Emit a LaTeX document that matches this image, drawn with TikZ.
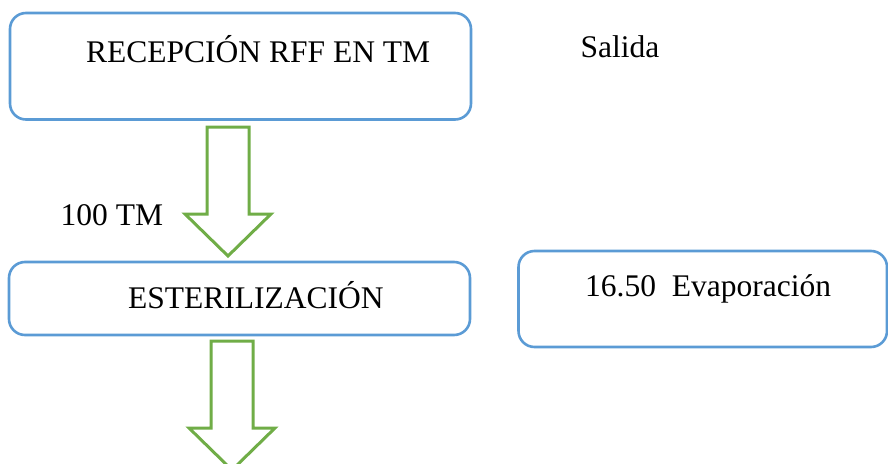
\documentclass[tikz,border=0pt]{standalone}
\usepackage{fontspec}
\setmainfont{Liberation Serif}
\definecolor{boxblue}{HTML}{5B9BD5}
\definecolor{arrowgreen}{HTML}{70AD47}
\begin{document}
\begin{tikzpicture}[x=1pt,y=-1pt,
  stagebox/.style={draw=boxblue, line width=2.6pt, rounded corners=16pt},
  blockarrow/.style={draw=arrowgreen, line width=3pt, line join=miter, fill=white},
  label/.style={anchor=base west, inner sep=0pt, font=\fontsize{31.5}{36}\selectfont}]
  \useasboundingbox (0,0) rectangle (888,463);

  % process boxes
  \draw[stagebox] (10,13) rectangle (471,119.5);
  \draw[stagebox] (9,262) rectangle (470,335);
  \draw[stagebox] (518.5,251) rectangle (887,347);

  % hollow block arrows between stages
  \draw[blockarrow] (207,127) -- (249,127) -- (249,214) -- (271,214)
    -- (228,256) -- (185,214) -- (207,214) -- cycle;
  \draw[blockarrow] (211,341) -- (253,341) -- (253,428) -- (275,428)
    -- (232,470) -- (189,428) -- (211,428) -- cycle;

  % texts
  \node[label] (recepcion) at (86,62) {RECEPCIÓN RFF EN TM};
  \node[label] (salida) at (580.5,57) {Salida};
  \node[label] (entrada) at (60.5,225) {100 TM};
  \node[label] (esteril) at (128,308) {ESTERILIZACIÓN};
  \node[label] (evap) at (585,296) {16.50\hspace{0.5em}Evaporación};
\end{tikzpicture}
\end{document}
